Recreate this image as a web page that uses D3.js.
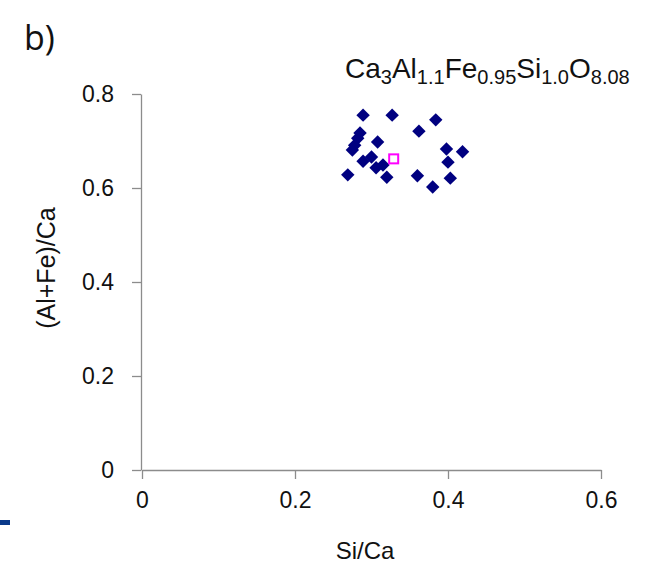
<!DOCTYPE html>
<html>
<head>
<meta charset="utf-8">
<script src="https://cdn.jsdelivr.net/npm/d3@7"></script>
<style>
  body { margin: 0; background: #fff; }
  text { font-family: "Liberation Sans", Arial, sans-serif; }
</style>
</head>
<body>
<script>

// measured samples (Si/Ca, (Al+Fe)/Ca)
var siCa   = [0.289, 0.327, 0.384, 0.362, 0.285, 0.282, 0.278, 0.275, 0.308, 0.398, 0.419,
              0.289, 0.300, 0.306, 0.315, 0.400, 0.269, 0.320, 0.360, 0.403, 0.380];
var alFeCa = [0.755, 0.755, 0.745, 0.721, 0.717, 0.706, 0.691, 0.681, 0.698, 0.683, 0.677,
              0.657, 0.666, 0.643, 0.649, 0.655, 0.628, 0.623, 0.626, 0.621, 0.602];

// nominal composition
var refPoint = [0.329, 0.662];

var xTicks = [0, 0.2, 0.4, 0.6];
var yTicks = [0, 0.2, 0.4, 0.6, 0.8];

var width = 650;
var height = 568;

var svg = d3.select("body")
.append("svg")
.attr("width", width)
.attr("height", height);

var xScale = d3.scaleLinear()
.domain([0, 0.6])
.range([142, 601]);

var yScale = d3.scaleLinear()
.domain([0, 0.8])
.range([470, 94]);

var axisColor = "#8c8c8c";
var fmt = d => d === 0 ? "0" : d3.format(".1f")(d);

//x axis
var xAxis = svg.append("g")
.attr("transform", `translate(0, ${yScale(0)})`)
.call(d3.axisBottom(xScale).tickValues(xTicks).tickSize(9).tickSizeOuter(0).tickFormat(fmt));

//y axis
var yAxis = svg.append("g")
.attr("transform", `translate(${xScale(0) - 1}, 0)`)
.call(d3.axisLeft(yScale).tickValues(yTicks).tickSize(9).tickSizeOuter(0).tickFormat(fmt));

[xAxis, yAxis].forEach(ax => {
    ax.attr("font-size", 23).attr("font-family", "'Liberation Sans', Arial, sans-serif");
    ax.select(".domain").attr("stroke", axisColor).attr("stroke-width", 1.3);
    ax.selectAll(".tick line").attr("stroke", axisColor).attr("stroke-width", 1.3);
    ax.selectAll(".tick text").attr("fill", "#111");
});
xAxis.selectAll(".tick text").attr("y", 22).attr("dy", "0.71em");
yAxis.selectAll(".tick text").attr("x", -27);

//axis titles
svg.append("text")
.attr("x", 365)
.attr("y", 559)
.attr("text-anchor", "middle")
.attr("font-size", 24)
.attr("fill", "#111")
.text("Si/Ca");

svg.append("text")
.attr("transform", "translate(55, 268) rotate(-90)")
.attr("text-anchor", "middle")
.attr("font-size", 25)
.attr("fill", "#111")
.text("(Al+Fe)/Ca");

//panel letter
svg.append("text")
.attr("x", 24)
.attr("y", 50)
.attr("font-size", 34)
.style("font-family", "'Open Sans', 'DejaVu Sans', sans-serif")
.attr("fill", "#111")
.text("b)");

//formula
var formula = svg.append("text")
.attr("x", 345)
.attr("y", 78)
.attr("font-size", 28)
.attr("fill", "#111");
[["Ca", false], ["3", true], ["Al", false], ["1.1", true], ["Fe", false], ["0.95", true],
 ["Si", false], ["1.0", true], ["O", false], ["8.08", true]].forEach((p, i) => {
    var t = formula.append("tspan").text(p[0]);
    if (p[1]) t.attr("font-size", 20).attr("dy", 6);
    else t.attr("dy", i > 0 ? -6 : 0);
});

//blue mark at bottom left
svg.append("rect")
.attr("x", 0)
.attr("y", 520)
.attr("width", 10)
.attr("height", 5)
.attr("fill", "#0a3a8a");

//data points
var diamond = d3.symbol().type(d3.symbolSquare).size(90);
siCa.forEach((x, i) => {
    svg.append("path")
    .attr("d", diamond)
    .attr("transform", `translate(${xScale(x)}, ${yScale(alFeCa[i])}) rotate(45)`)
    .attr("fill", "#000080");
});

svg.append("rect")
.attr("x", xScale(refPoint[0]) - 4.5)
.attr("y", yScale(refPoint[1]) - 4.5)
.attr("width", 9)
.attr("height", 9)
.attr("fill", "#fff")
.attr("stroke", "#ff00ff")
.attr("stroke-width", 2);

</script>
</body>
</html>
